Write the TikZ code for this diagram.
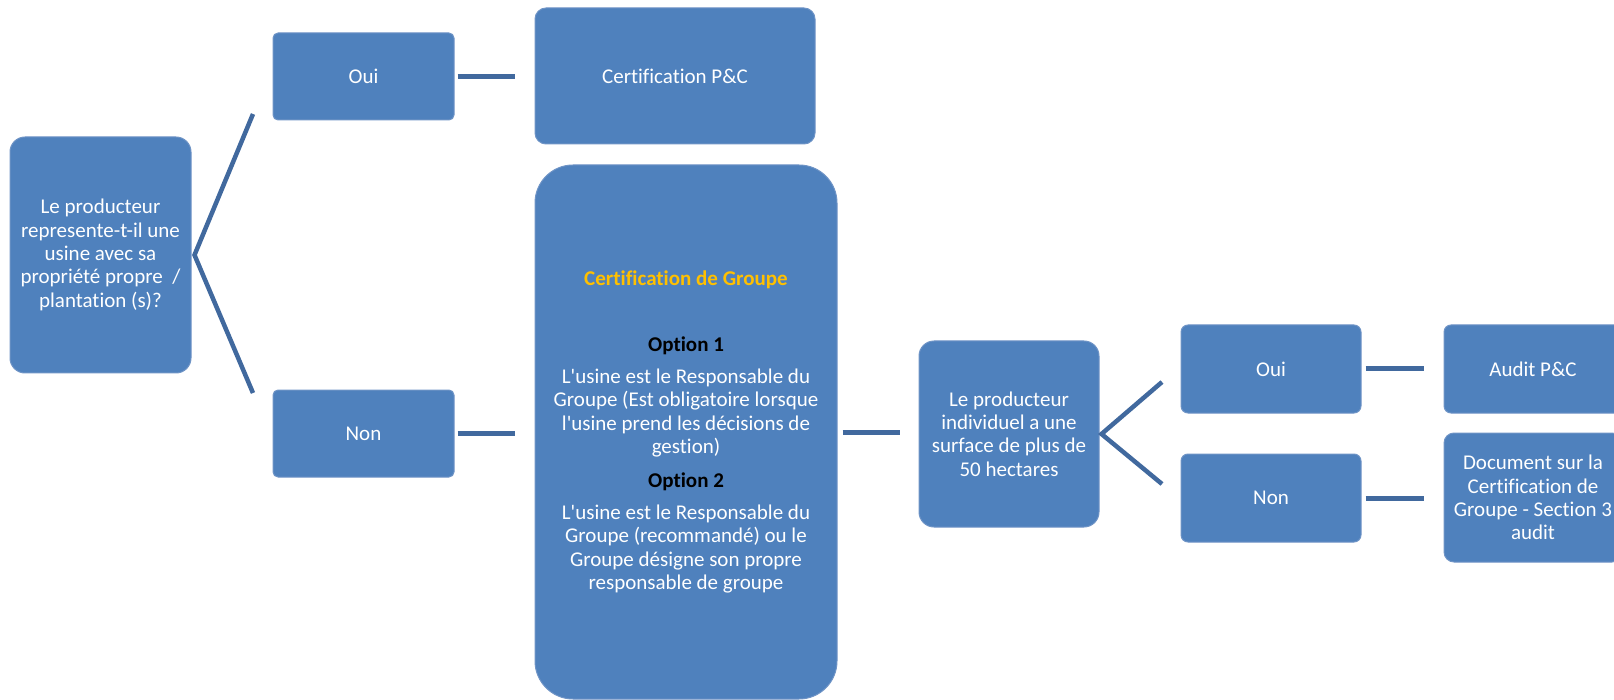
\documentclass[tikz,border=0pt]{standalone}
\usepackage{fontspec}
\defaultfontfeatures[\rmfamily]{}
\setmainfont{Carlito}[Ligatures=NoCommon]
\definecolor{boxblue}{HTML}{4F81BD}
\definecolor{boxedge}{HTML}{6F94C6}
\definecolor{linkblue}{HTML}{41699E}
\definecolor{titlegold}{HTML}{FFC000}
\begin{document}
\begin{tikzpicture}[x=1pt,y=-1pt,
  font=\fontsize{21}{23.3}\selectfont,
  box/.style={fill=boxblue, draw=boxedge, line width=1pt, text=white, align=center, inner sep=0pt},
  conn/.style={draw=linkblue, line width=5pt}]
\useasboundingbox (0,0) rectangle (1614,700);

\node[box, minimum width=181pt, minimum height=236pt, rounded corners=15pt] (q1) at (100.5,255)
  {Le producteur\\represente-t-il une\\usine avec sa\\propriété propre\ \ /\\plantation (s)?};
\node[box, minimum width=181pt, minimum height=87pt, rounded corners=5pt] (oui1) at (363.5,76.5) {Oui};
\node[box, minimum width=280pt, minimum height=136pt, rounded corners=11pt] (cert) at (675,76) {Certification P\&C};
\node[box, minimum width=181pt, minimum height=87pt, rounded corners=5pt] (non1) at (363.5,433.5) {Non};
\node[box, minimum width=302pt, minimum height=534pt, rounded corners=38pt] (group) at (686,432)
  {{\color{titlegold}\bfseries Certification de Groupe}\\[42.7pt]
   {\color{black}\bfseries Option 1}\\[8.7pt]
   L'usine est le Responsable du\\
   Groupe (Est obligatoire lorsque\\
   l'usine prend les décisions de\\
   gestion)\\[10.7pt]
   {\color{black}\bfseries Option 2}\\[8.7pt]
   L'usine est le Responsable du\\
   Groupe (recommandé) ou le\\
   Groupe désigne son propre\\
   responsable de groupe};
\node[box, minimum width=180pt, minimum height=186pt, rounded corners=15pt] (q2) at (1009,434)
  {Le producteur\\individuel a une\\surface de plus de\\50 hectares};
\node[box, minimum width=180pt, minimum height=88pt, rounded corners=7pt] (oui2) at (1271,369) {Oui};
\node[box, minimum width=178pt, minimum height=88pt, rounded corners=7pt] (audit) at (1533,369) {Audit P\&C};
\node[box, minimum width=180pt, minimum height=88pt, rounded corners=7pt] (non2) at (1271,498) {Non};
\node[box, minimum width=178pt, minimum height=129pt, rounded corners=10pt] (doc) at (1533,497.5)
  {Document sur la\\Certification de\\Groupe - Section 3\\audit};

\coordinate (b1top) at (253,114);
\coordinate (b1bot) at (253,393);
\coordinate (b2top) at (1162,382);
\coordinate (b2bot) at (1162,484);

\draw[conn, line width=4.5pt] (b1top) -- ([xshift=3pt]q1.east) -- (b1bot);
\draw[conn, line width=4.5pt] (b2top) -- ([xshift=2pt]q2.east) -- (b2bot);

\draw[conn, shorten <=3pt, shorten >=20pt] (oui1.east) -- (oui1.east -| cert.west);
\draw[conn, shorten <=3pt, shorten >=20pt] (non1.east) -- (non1.east -| group.west);
\draw[conn, shorten <=5pt, shorten >=19pt] (group.east) -- (group.east -| q2.west);
\draw[conn, shorten <=4pt, shorten >=20pt] (oui2.east) -- (oui2.east -| audit.west);
\draw[conn, shorten <=4pt, shorten >=20pt] (non2.east) -- (non2.east -| doc.west);
\end{tikzpicture}
\end{document}
